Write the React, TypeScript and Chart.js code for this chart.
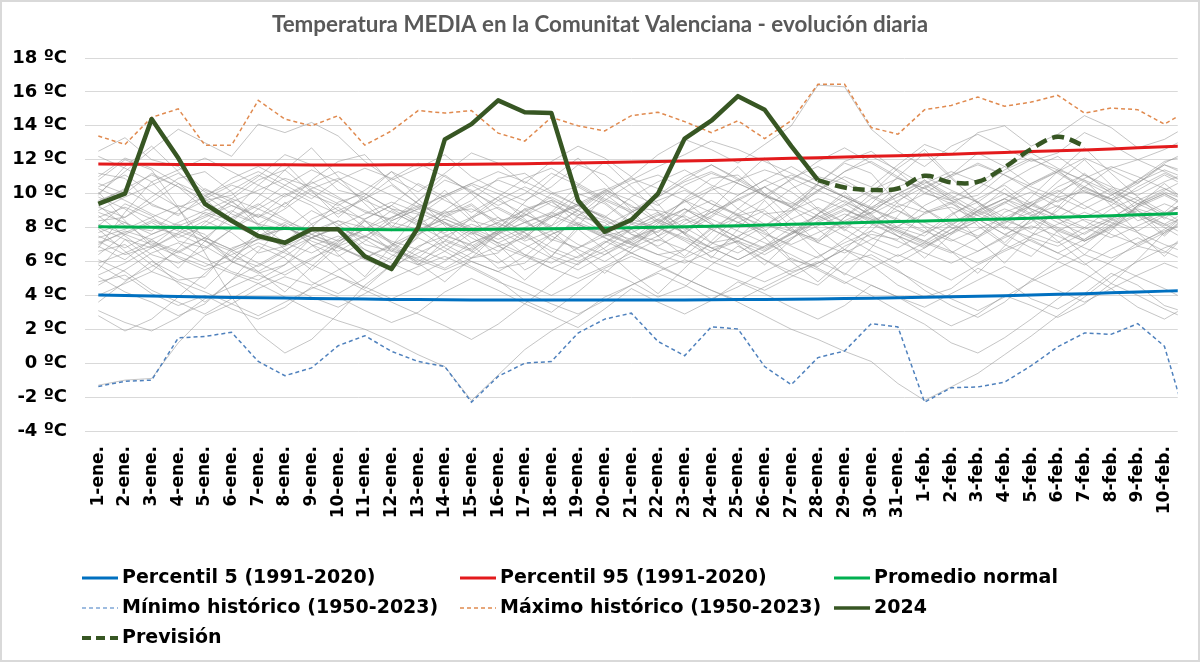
import React, { useEffect, useRef } from 'react';
import { Chart, registerables } from 'chart.js';
Chart.register(...registerables);

const TITULO = 'Temperatura MEDIA en la Comunitat Valenciana - evolución diaria';

const categorias = [
  '1-ene.', '2-ene.', '3-ene.', '4-ene.', '5-ene.', '6-ene.', '7-ene.', '8-ene.', '9-ene.', '10-ene.',
  '11-ene.', '12-ene.', '13-ene.', '14-ene.', '15-ene.', '16-ene.', '17-ene.', '18-ene.', '19-ene.', '20-ene.',
  '21-ene.', '22-ene.', '23-ene.', '24-ene.', '25-ene.', '26-ene.', '27-ene.', '28-ene.', '29-ene.', '30-ene.',
  '31-ene.', '1-feb.', '2-feb.', '3-feb.', '4-feb.', '5-feb.', '6-feb.', '7-feb.', '8-feb.', '9-feb.', '10-feb.',
];

const yTicks = [-4, -2, 0, 2, 4, 6, 8, 10, 12, 14, 16, 18];

// 42 values: 1-ene .. 10-feb plus 11-feb (only half visible at the right edge)
const percentil5 = [4.02, 3.99, 3.96, 3.93, 3.9, 3.88, 3.86, 3.84, 3.82, 3.8, 3.78, 3.76, 3.75, 3.74, 3.73, 3.72, 3.72, 3.72, 3.72, 3.72, 3.72, 3.72, 3.73, 3.74, 3.75, 3.76, 3.77, 3.79, 3.81, 3.83, 3.86, 3.89, 3.92, 3.95, 3.98, 4.02, 4.06, 4.1, 4.15, 4.2, 4.25, 4.3];
const percentil95 = [11.75, 11.74, 11.73, 11.72, 11.72, 11.71, 11.7, 11.7, 11.69, 11.69, 11.69, 11.7, 11.71, 11.72, 11.73, 11.75, 11.77, 11.79, 11.81, 11.84, 11.87, 11.9, 11.93, 11.96, 12.0, 12.04, 12.08, 12.12, 12.16, 12.2, 12.24, 12.28, 12.33, 12.38, 12.43, 12.48, 12.53, 12.58, 12.64, 12.7, 12.76, 12.82];
const promedioNormal = [8.04, 8.03, 8.02, 8.0, 7.99, 7.97, 7.96, 7.94, 7.92, 7.9, 7.88, 7.87, 7.87, 7.88, 7.89, 7.9, 7.91, 7.93, 7.95, 7.97, 7.99, 8.02, 8.05, 8.08, 8.11, 8.15, 8.19, 8.23, 8.27, 8.31, 8.35, 8.39, 8.43, 8.47, 8.51, 8.55, 8.6, 8.65, 8.7, 8.75, 8.8, 8.85];
const minimoHistorico = [-1.37, -1.07, -1.0, 1.49, 1.58, 1.82, 0.1, -0.74, -0.28, 1.03, 1.62, 0.7, 0.1, -0.2, -2.3, -0.78, 0.0, 0.1, 1.78, 2.6, 2.95, 1.28, 0.44, 2.14, 2.02, -0.2, -1.27, 0.33, 0.72, 2.33, 2.14, -2.3, -1.45, -1.4, -1.12, -0.15, 0.97, 1.78, 1.7, 2.33, 1.0, -4.3];
const maximoHistorico = [13.4, 12.9, 14.5, 15.0, 12.86, 12.86, 15.5, 14.4, 14.0, 14.6, 12.86, 13.7, 14.9, 14.75, 14.9, 13.57, 13.1, 14.5, 14.0, 13.7, 14.6, 14.8, 14.25, 13.6, 14.3, 13.25, 14.3, 16.45, 16.45, 13.9, 13.5, 14.95, 15.2, 15.7, 15.15, 15.4, 15.8, 14.75, 15.05, 14.95, 14.1, 15.0];
const temp2024 = [9.4, 10.0, 14.4, 12.1, 9.4, 8.4, 7.5, 7.1, 7.9, 7.9, 6.3, 5.55, 8.0, 13.2, 14.1, 15.5, 14.8, 14.75, 9.6, 7.75, 8.45, 10.0, 13.25, 14.3, 15.75, 14.95, 12.8, 10.8, null, null, null, null, null, null, null, null, null, null, null, null, null, null];
const prevision = [null, null, null, null, null, null, null, null, null, null, null, null, null, null, null, null, null, null, null, null, null, null, null, null, null, null, null, 10.8, 10.36, 10.22, 10.3, 11.05, 10.66, 10.7, 11.55, 12.63, 13.35, 12.82, null, null, null, null];

// Individual years 1950-2023 (a selection)
const historicos = [
  [5.1, 4.2, 3.6, 2.8, 3.5, 4.9, 5.8, 6.7, 7.4, 6.9, 6.1, 5.5, 6.8, 7.9, 8.6, 9.2, 8.4, 7.3, 6.8, 7.5, 8.9, 9.6, 10.2, 9.4, 8.7, 9.1, 10.3, 11.0, 10.6, 9.8, 9.0, 8.3, 7.6, 8.4, 9.5, 10.1, 9.2, 8.6, 9.3, 10.4, 11.2, 10.5],
  [10.8, 12.0, 11.4, 9.2, 6.5, 3.9, 1.8, 0.6, 1.4, 2.9, 4.6, 5.8, 6.9, 7.5, 8.2, 7.6, 6.4, 5.9, 6.8, 7.7, 8.5, 8.0, 7.3, 6.6, 7.2, 8.1, 9.0, 9.7, 9.1, 8.4, 7.8, 7.1, 6.5, 7.4, 8.3, 8.9, 9.6, 10.2, 9.5, 8.7, 8.1, 8.8],
  [9.5, 10.3, 11.1, 10.4, 9.7, 10.5, 10.0, 9.2, 10.8, 11.9, 12.3, 10.6, 9.4, 8.8, 9.6, 10.9, 11.2, 10.1, 9.3, 8.6, 9.8, 10.7, 11.4, 10.5, 9.9, 10.8, 11.6, 10.7, 9.8, 9.1, 10.4, 11.0, 10.2, 9.5, 10.6, 11.5, 12.2, 11.1, 10.4, 9.9, 10.7, 11.3],
  [7.4, 7.9, 8.6, 9.3, 8.8, 8.1, 7.5, 6.9, 7.6, 8.4, 8.0, 7.2, 6.7, 6.1, 6.8, 7.7, 8.3, 8.9, 8.2, 7.6, 7.0, 6.4, 5.9, 6.6, 7.5, 8.2, 7.8, 7.1, 6.5, 7.3, 8.1, 8.8, 9.4, 8.7, 8.0, 7.4, 6.9, 7.7, 8.5, 9.1, 8.6, 8.0],
  [3.1, 2.4, 1.9, 2.7, 3.8, 4.5, 5.2, 4.6, 3.9, 3.3, 4.1, 5.0, 5.7, 6.3, 5.6, 4.8, 4.2, 3.5, 2.9, 3.7, 4.6, 5.4, 6.1, 5.5, 4.9, 4.3, 5.1, 5.9, 6.7, 6.2, 5.4, 4.6, 3.8, 3.1, 3.9, 4.8, 5.6, 6.4, 5.8, 5.1, 4.4, 3.6],
  [9.0, 9.8, 10.5, 11.2, 10.1, 9.3, 8.6, 9.4, 10.3, 10.9, 10.0, 9.1, 8.3, 7.7, 8.5, 9.6, 10.4, 9.7, 8.8, 8.1, 8.9, 9.8, 10.7, 11.3, 10.6, 9.9, 9.2, 8.5, 9.3, 10.2, 10.9, 10.3, 9.6, 8.9, 9.7, 10.6, 11.4, 10.8, 10.1, 9.4, 10.2, 11.0],
  [8.2, 7.6, 7.0, 6.3, 5.7, 6.4, 7.1, 6.5, 5.8, 5.1, 4.3, 3.6, 2.9, 2.2, 1.4, 2.3, 3.5, 4.7, 5.9, 6.6, 7.3, 8.0, 7.4, 6.8, 6.1, 6.9, 7.6, 8.3, 9.0, 8.5, 7.8, 7.2, 6.6, 5.9, 6.7, 7.5, 8.2, 8.9, 8.3, 7.7, 7.0, 6.4],
  [10.3, 9.6, 8.8, 8.1, 8.7, 9.5, 10.2, 10.9, 10.4, 9.7, 9.0, 8.4, 9.1, 9.9, 10.6, 11.3, 10.7, 10.0, 9.3, 8.6, 8.0, 8.7, 9.5, 10.2, 10.8, 11.4, 10.9, 10.2, 9.5, 8.8, 9.6, 10.4, 11.1, 11.7, 11.1, 10.4, 9.8, 9.1, 9.9, 10.7, 11.4, 10.8],
  [5.9, 6.5, 7.2, 6.6, 5.9, 5.3, 4.7, 5.4, 6.2, 6.9, 7.5, 6.8, 6.1, 5.5, 6.2, 6.9, 6.3, 5.6, 5.0, 5.7, 6.5, 7.3, 6.7, 6.0, 5.4, 4.8, 5.5, 6.3, 7.1, 7.8, 7.2, 6.5, 5.9, 6.6, 7.4, 8.1, 7.5, 6.8, 6.2, 6.9, 7.7, 8.4],
  [7.1, 7.7, 8.4, 7.8, 7.2, 6.6, 7.3, 8.0, 7.4, 6.8, 6.2, 6.9, 7.6, 8.3, 7.7, 7.1, 7.8, 8.6, 9.3, 10.1, 10.8, 11.6, 12.3, 13.1, 12.6, 11.9, 11.2, 10.5, 9.8, 9.1, 8.4, 7.7, 8.3, 9.0, 9.7, 9.1, 8.5, 7.9, 8.6, 9.4, 10.1, 9.5],
  [8.6, 9.2, 8.5, 7.9, 8.6, 9.3, 8.7, 8.0, 7.4, 8.1, 8.8, 9.5, 8.9, 8.2, 7.6, 8.3, 9.0, 9.6, 9.0, 8.4, 7.7, 8.4, 9.1, 8.5, 7.8, 7.1, 6.4, 5.6, 4.8, 4.0, 3.1, 2.3, 1.2, 0.6, 1.5, 2.6, 3.8, 4.9, 6.0, 7.1, 7.8, 8.4],
  [12.2, 11.5, 10.7, 11.4, 12.1, 11.3, 10.5, 9.8, 10.6, 11.3, 10.6, 9.9, 9.2, 9.9, 10.6, 10.0, 9.3, 8.6, 9.4, 10.2, 10.9, 10.3, 9.6, 8.9, 9.6, 10.4, 11.1, 10.5, 9.8, 9.1, 9.8, 10.6, 11.3, 10.7, 10.0, 9.3, 10.1, 10.9, 11.6, 11.0, 10.3, 9.6],
  [4.0, 4.7, 5.4, 4.8, 4.2, 3.5, 2.8, 3.6, 4.4, 5.1, 4.5, 3.8, 4.5, 5.3, 6.0, 5.4, 4.7, 4.0, 4.8, 5.6, 6.3, 5.7, 5.0, 4.3, 3.7, 4.5, 5.3, 6.0, 5.3, 4.6, 3.9, 3.3, 4.1, 4.9, 5.7, 5.0, 4.3, 3.6, 4.4, 5.2, 5.9, 5.3],
  [8.9, 8.3, 7.6, 8.3, 9.0, 9.7, 9.1, 8.4, 7.8, 7.2, 7.9, 8.6, 9.3, 8.7, 8.0, 7.3, 8.0, 8.7, 8.1, 7.4, 6.8, 7.5, 8.2, 8.9, 8.3, 7.6, 7.0, 7.7, 8.4, 9.1, 8.5, 7.8, 7.2, 7.9, 8.6, 9.3, 8.7, 8.0, 7.4, 8.1, 8.8, 9.5],
  [6.8, 8.9, 10.7, 9.1, 7.3, 6.0, 7.8, 9.5, 8.2, 6.4, 5.1, 6.9, 8.8, 10.2, 8.6, 7.0, 5.5, 6.3, 8.1, 9.9, 11.0, 9.4, 7.6, 6.2, 7.9, 9.6, 8.0, 6.5, 5.2, 6.8, 8.7, 10.4, 9.0, 7.3, 5.9, 7.5, 9.2, 10.8, 9.3, 7.7, 6.3, 7.9],
  [10.1, 8.4, 6.9, 5.6, 7.2, 8.9, 10.5, 11.8, 10.2, 8.6, 9.9, 11.3, 9.7, 8.1, 6.6, 7.9, 9.5, 10.9, 12.1, 10.6, 9.0, 7.5, 8.8, 10.3, 11.6, 10.0, 8.5, 7.1, 8.6, 10.0, 11.5, 12.6, 11.0, 9.4, 7.9, 9.3, 10.7, 12.0, 10.5, 9.0, 7.6, 8.9],
  [5.5, 7.3, 6.1, 4.7, 3.6, 4.9, 6.6, 8.2, 7.0, 5.6, 4.4, 5.8, 7.5, 9.0, 7.7, 6.2, 4.9, 6.3, 7.9, 6.7, 5.3, 4.1, 5.6, 7.2, 8.7, 7.4, 6.0, 4.8, 6.2, 7.8, 9.3, 8.0, 6.6, 5.3, 6.9, 8.5, 7.2, 5.9, 4.7, 6.1, 7.7, 9.1],
  [9.9, 11.6, 12.8, 11.3, 9.7, 8.3, 9.8, 11.4, 12.7, 11.0, 9.4, 8.0, 9.6, 11.1, 10.0, 8.6, 7.3, 8.9, 10.5, 11.9, 10.4, 8.9, 7.6, 9.1, 10.7, 12.1, 10.6, 9.1, 7.8, 9.4, 11.0, 12.4, 10.9, 9.5, 8.2, 9.8, 11.3, 12.7, 11.2, 9.8, 8.5, 10.0],
  [2.8, 1.9, 2.6, 3.9, 5.3, 6.6, 5.4, 4.2, 5.7, 7.1, 8.4, 7.0, 5.8, 7.2, 8.6, 9.8, 8.5, 7.2, 8.7, 10.0, 8.8, 7.5, 6.3, 7.7, 9.1, 10.4, 9.2, 7.9, 6.7, 8.1, 9.5, 10.8, 9.6, 8.3, 7.1, 8.5, 9.9, 11.2, 10.0, 8.7, 7.5, 8.9],
  [7.9, 6.6, 5.4, 6.8, 8.3, 9.6, 8.1, 6.7, 5.5, 6.9, 8.4, 7.1, 5.9, 4.8, 6.2, 7.7, 9.1, 7.8, 6.5, 5.3, 6.7, 8.2, 9.6, 8.3, 7.0, 5.8, 7.3, 8.8, 10.1, 8.8, 7.5, 6.2, 7.6, 9.0, 10.3, 9.0, 7.7, 6.4, 7.8, 9.3, 10.6, 9.3],
  [8.4, 8.6, 9.8, 10.9, 11.3, 10.1, 8.2, 7.9, 8.0, 9.5, 10.0, 9.1, 8.8, 7.0, 6.2, 6.5, 7.8, 8.1, 9.9, 10.3, 9.2, 9.0, 8.6, 7.1, 7.4, 8.8, 9.0, 10.6, 11.8, 11.2, 9.4, 8.9, 9.2, 8.5, 7.6, 8.3, 9.8, 10.1, 9.7, 8.4, 8.9, 10.2],
  [11.2, 10.9, 9.3, 8.8, 9.6, 9.9, 11.0, 12.3, 11.7, 10.2, 9.8, 8.1, 7.7, 8.9, 9.1, 8.4, 8.7, 10.0, 10.4, 9.5, 8.3, 8.0, 9.7, 10.9, 11.1, 9.8, 9.4, 10.6, 11.9, 12.5, 11.3, 10.0, 9.6, 9.9, 11.2, 12.0, 11.4, 10.1, 9.5, 10.8, 11.7, 11.0],
  [6.6, 7.0, 5.8, 4.9, 5.1, 6.8, 7.3, 7.1, 8.5, 9.2, 8.0, 6.6, 6.2, 7.5, 7.0, 5.6, 5.9, 7.2, 8.6, 8.3, 7.1, 6.4, 6.7, 8.0, 8.8, 7.9, 6.1, 5.7, 6.9, 7.6, 7.3, 8.9, 9.5, 8.1, 7.0, 6.3, 7.8, 8.5, 8.1, 6.9, 6.5, 7.9],
  [12.5, 13.3, 12.0, 11.6, 10.2, 9.7, 10.8, 11.4, 10.1, 9.0, 8.5, 9.3, 10.6, 9.8, 8.4, 8.0, 9.1, 9.6, 8.2, 7.5, 7.9, 8.8, 7.6, 6.8, 7.2, 6.1, 5.4, 5.9, 6.7, 5.8, 4.6, 3.9, 4.4, 5.6, 4.9, 3.8, 3.2, 4.1, 5.3, 4.6, 3.4, 2.9],
  [7.2, 6.4, 6.9, 8.1, 7.6, 6.0, 5.3, 5.8, 7.4, 8.0, 6.7, 6.1, 7.6, 8.7, 9.4, 8.2, 7.7, 6.3, 5.8, 7.1, 7.9, 6.8, 6.2, 7.0, 8.3, 9.0, 7.8, 7.3, 8.6, 9.7, 10.3, 9.1, 8.0, 7.4, 8.9, 9.5, 8.6, 7.2, 7.9, 9.3, 10.0, 9.2],
  [10.0, 11.3, 12.6, 13.8, 13.0, 12.2, 14.1, 13.6, 14.2, 13.4, 11.9, 10.8, 11.5, 12.3, 11.0, 10.2, 9.6, 10.4, 11.7, 11.1, 10.0, 9.3, 10.5, 11.2, 10.6, 9.9, 10.8, 11.9, 12.7, 11.8, 10.9, 10.3, 11.1, 12.4, 11.6, 10.5, 11.3, 12.1, 11.4, 10.6, 11.8, 12.6],
  [3.6, 4.8, 6.0, 5.2, 4.4, 5.9, 6.9, 6.2, 4.8, 4.1, 5.0, 6.3, 7.4, 6.6, 5.7, 4.9, 3.7, 3.0, 4.2, 5.5, 4.8, 3.9, 4.5, 5.8, 6.9, 6.1, 5.2, 4.6, 5.9, 6.4, 5.5, 4.3, 3.4, 2.7, 3.6, 4.9, 6.0, 5.3, 4.4, 3.3, 2.6, 3.5],
  [8.0, 7.3, 6.8, 7.7, 8.9, 8.4, 7.5, 7.9, 9.0, 8.2, 7.0, 6.6, 7.9, 8.5, 7.8, 6.9, 7.4, 8.6, 9.3, 8.7, 7.6, 7.2, 8.4, 9.1, 8.3, 7.8, 8.9, 10.2, 11.0, 10.4, 11.7, 12.9, 12.3, 13.6, 14.0, 12.8, 13.5, 14.6, 13.9, 12.7, 13.2, 14.1],
  [9.3, 8.1, 7.8, 9.0, 10.3, 9.5, 8.6, 9.9, 10.7, 9.8, 8.9, 8.5, 9.6, 10.8, 10.2, 9.1, 8.3, 8.8, 10.0, 9.4, 8.2, 7.7, 8.9, 9.6, 8.7, 8.1, 9.2, 10.5, 9.8, 8.6, 8.0, 9.3, 10.1, 9.5, 8.4, 7.9, 9.0, 10.4, 9.7, 8.8, 8.2, 9.1],
  [4.8, 5.2, 4.1, 3.4, 4.0, 3.2, 2.6, 3.3, 4.5, 3.9, 3.1, 2.4, 3.0, 4.2, 5.0, 4.3, 3.5, 2.8, 2.1, 3.2, 4.4, 3.6, 2.9, 3.7, 4.8, 4.1, 3.3, 2.6, 3.4, 4.6, 3.9, 3.0, 2.2, 2.9, 4.0, 3.4, 2.7, 3.5, 4.7, 4.0, 3.2, 2.5],
  [9.6, 10.2, 9.4, 8.7, 9.9, 10.6, 11.3, 10.5, 9.7, 10.8, 11.5, 10.9, 10.1, 11.2, 12.4, 11.8, 10.6, 11.9, 12.8, 12.1, 11.0, 12.3, 13.2, 12.6, 11.8, 12.9, 14.0, 16.4, 16.3, 13.8, 12.5, 11.6, 12.8, 13.5, 12.7, 11.9, 12.4, 13.6, 12.9, 12.0, 12.6, 13.4],
  [6.1, 5.4, 4.3, 3.6, 2.9, 3.8, 4.7, 3.9, 3.1, 2.5, 2.0, 1.3, 0.5, -0.2, -2.2, -0.7, 0.8, 1.9, 2.8, 3.9, 4.6, 5.3, 4.6, 3.8, 4.5, 5.4, 6.2, 5.5, 4.7, 5.6, 6.4, 5.7, 4.9, 5.8, 6.6, 7.3, 6.5, 5.8, 6.7, 7.4, 6.6, 5.9],
  [7.5, 6.8, 7.6, 8.2, 7.4, 6.7, 7.5, 8.3, 7.6, 6.9, 6.2, 7.0, 7.8, 8.5, 7.9, 7.1, 6.4, 5.6, 6.3, 7.2, 6.5, 5.8, 5.0, 4.3, 3.6, 2.8, 2.0, 1.4, 0.7, 0.1, -1.2, -2.2, -1.4, -0.6, 0.5, 1.6, 2.8, 3.9, 5.1, 6.0, 6.8, 7.4],
  [-1.3, -1.0, -0.9, 1.2, 2.8, 3.5, 4.4, 5.1, 4.6, 5.5, 6.3, 5.7, 6.5, 7.2, 6.6, 5.9, 6.8, 7.6, 8.3, 7.7, 7.0, 7.8, 8.5, 7.9, 7.2, 6.6, 7.4, 8.1, 8.8, 8.2, 7.5, 6.9, 7.7, 8.4, 9.1, 8.5, 7.8, 7.2, 8.0, 8.7, 9.4, 8.8],
  [8.1, 9.4, 8.7, 7.2, 6.8, 7.9, 9.1, 10.0, 9.3, 8.0, 7.4, 8.6, 9.2, 8.3, 7.1, 7.7, 8.9, 9.8, 9.0, 7.8, 7.3, 8.5, 9.6, 10.4, 9.1, 8.2, 7.6, 8.8, 9.9, 9.2, 8.0, 7.5, 8.7, 9.7, 10.5, 9.4, 8.6, 9.5, 10.3, 9.6, 8.8, 9.7],
  [6.9, 6.1, 7.3, 8.0, 7.2, 6.3, 5.7, 6.6, 7.8, 8.4, 7.5, 6.7, 6.0, 6.9, 7.9, 8.6, 7.7, 6.8, 6.2, 7.1, 8.2, 8.9, 8.0, 7.1, 6.5, 7.4, 8.5, 9.2, 8.3, 7.4, 6.8, 7.7, 8.8, 9.5, 8.6, 7.7, 7.1, 8.0, 9.1, 9.8, 8.9, 8.0],
  [10.6, 10.0, 11.2, 10.4, 9.1, 8.5, 9.3, 10.5, 11.4, 10.7, 9.6, 8.9, 8.2, 9.0, 10.1, 10.8, 10.2, 9.3, 8.7, 9.6, 10.6, 11.1, 10.3, 9.4, 8.8, 9.7, 10.9, 11.6, 10.8, 9.9, 9.2, 10.0, 11.0, 11.8, 11.1, 10.2, 9.5, 10.4, 11.5, 12.0, 11.3, 10.5],
  [5.2, 5.9, 6.8, 7.6, 6.9, 6.0, 5.4, 6.3, 7.4, 8.0, 7.3, 6.4, 5.8, 6.6, 7.7, 8.3, 7.5, 6.6, 6.0, 6.8, 7.9, 8.5, 7.7, 6.8, 6.1, 6.9, 8.0, 8.7, 7.9, 7.0, 6.3, 7.1, 8.2, 8.9, 8.1, 7.2, 6.5, 7.3, 8.4, 9.0, 8.2, 7.4],
  [9.8, 9.1, 8.0, 7.6, 8.4, 7.7, 6.5, 6.9, 8.2, 9.0, 9.7, 10.5, 9.4, 8.6, 9.3, 8.1, 7.2, 7.8, 9.1, 10.2, 9.6, 8.4, 7.9, 8.7, 9.9, 10.8, 10.1, 9.0, 8.3, 8.9, 10.0, 10.7, 9.8, 8.7, 9.4, 10.6, 11.3, 10.4, 9.6, 10.2, 11.1, 10.3],
  [7.0, 7.8, 7.3, 6.2, 5.5, 6.1, 7.4, 8.1, 7.2, 6.6, 7.5, 8.3, 7.9, 6.8, 6.0, 5.4, 6.3, 7.6, 8.2, 7.4, 6.5, 5.8, 6.7, 7.9, 8.6, 7.7, 6.9, 6.2, 7.3, 8.4, 9.0, 8.1, 7.3, 6.6, 7.5, 8.7, 9.3, 8.4, 7.6, 7.0, 7.9, 9.0],
  [11.0, 12.1, 11.5, 10.6, 9.4, 10.2, 11.1, 10.3, 9.5, 8.8, 9.7, 10.9, 11.8, 11.0, 10.1, 9.3, 10.0, 11.2, 10.5, 9.6, 8.9, 9.8, 10.8, 11.7, 10.9, 10.0, 9.2, 10.1, 11.3, 12.2, 11.4, 10.5, 9.7, 10.6, 11.6, 12.4, 11.5, 10.7, 9.9, 10.8, 11.9, 12.3],
  [4.6, 5.5, 6.5, 7.1, 6.2, 5.4, 4.9, 5.8, 6.9, 7.5, 6.7, 5.9, 5.2, 6.0, 7.1, 7.8, 7.0, 6.2, 5.5, 6.4, 7.4, 8.0, 7.2, 6.3, 5.7, 6.6, 7.7, 8.3, 7.5, 6.6, 5.9, 6.8, 7.9, 8.5, 7.6, 6.8, 6.1, 7.0, 8.1, 8.8, 8.0, 7.1],
  [8.7, 7.5, 6.4, 5.9, 6.7, 7.9, 8.8, 8.1, 7.0, 6.3, 7.2, 8.4, 9.1, 8.3, 7.4, 6.6, 7.5, 8.7, 9.4, 8.5, 7.6, 6.9, 7.8, 8.9, 9.7, 8.8, 7.9, 7.2, 8.1, 9.2, 10.0, 9.1, 8.2, 7.5, 8.4, 9.5, 10.2, 9.3, 8.5, 7.8, 8.7, 9.8],
  [6.4, 7.6, 8.3, 7.4, 8.1, 9.0, 8.2, 7.1, 6.5, 7.3, 8.5, 9.3, 8.4, 7.6, 6.9, 7.8, 8.8, 8.0, 7.0, 6.4, 7.2, 8.3, 9.1, 8.2, 7.4, 6.7, 7.6, 8.6, 9.4, 8.5, 7.7, 7.0, 7.9, 9.0, 9.7, 8.8, 8.0, 7.3, 8.2, 9.3, 10.0, 9.2],
  [9.2, 8.6, 9.5, 10.6, 9.9, 8.8, 8.2, 9.1, 10.2, 9.4, 8.4, 7.8, 8.7, 9.8, 10.5, 9.6, 8.8, 8.1, 9.0, 10.1, 9.3, 8.3, 7.7, 8.6, 9.7, 10.4, 9.5, 8.7, 8.0, 8.9, 10.0, 10.8, 9.9, 9.0, 8.4, 9.3, 10.4, 11.1, 10.2, 9.4, 8.7, 9.6],
  [7.7, 8.3, 7.1, 6.5, 7.4, 8.6, 9.4, 8.5, 7.6, 7.0, 7.9, 9.0, 8.1, 7.3, 6.7, 7.6, 8.7, 9.5, 8.6, 7.7, 7.1, 8.0, 9.1, 8.2, 7.4, 6.8, 7.7, 8.8, 9.6, 8.7, 7.9, 7.2, 8.1, 9.2, 10.0, 9.1, 8.3, 7.6, 8.5, 9.6, 10.3, 9.4],
  [5.8, 4.9, 5.7, 6.6, 7.4, 6.7, 5.9, 5.2, 6.1, 7.2, 7.9, 7.1, 6.3, 5.6, 6.5, 7.6, 8.3, 7.5, 6.7, 6.0, 6.9, 8.0, 8.7, 7.9, 7.1, 6.4, 7.3, 8.4, 9.1, 8.3, 7.5, 6.8, 7.7, 8.8, 9.5, 8.7, 7.9, 7.2, 8.1, 9.2, 9.9, 9.1],
  [10.4, 11.1, 10.1, 9.2, 9.8, 10.9, 11.6, 10.8, 9.9, 9.3, 10.2, 11.3, 10.5, 9.6, 8.9, 9.8, 10.9, 11.5, 10.6, 9.7, 9.0, 9.9, 11.0, 11.7, 10.8, 9.9, 9.3, 10.2, 11.3, 11.9, 11.0, 10.1, 9.4, 10.3, 11.4, 12.1, 11.2, 10.3, 9.7, 10.6, 11.7, 11.2],
];

const C_P5 = '#0070C0';
const C_P95 = '#E31A1C';
const C_NORMAL = '#00B050';
const C_MIN = '#4F81BD';
const C_MAX = '#E08A4F';
const C_2024 = '#375623';
const C_GRIS = 'rgba(150,150,150,0.55)';

const FONT = '"DejaVu Sans", Verdana, sans-serif';

type LegendItem = { label: string; color: string; width: number; dash: number[]; col: number; row: number };
const legendItems: LegendItem[] = [
  { label: 'Percentil 5 (1991-2020)', color: C_P5, width: 3, dash: [], col: 0, row: 0 },
  { label: 'Percentil 95 (1991-2020)', color: C_P95, width: 3, dash: [], col: 1, row: 0 },
  { label: 'Promedio normal', color: C_NORMAL, width: 3, dash: [], col: 2, row: 0 },
  { label: 'Mínimo histórico (1950-2023)', color: '#7FA7D6', width: 1.5, dash: [4, 3], col: 0, row: 1 },
  { label: 'Máximo histórico (1950-2023)', color: C_MAX, width: 1.5, dash: [4, 3], col: 1, row: 1 },
  { label: '2024', color: C_2024, width: 3.5, dash: [], col: 2, row: 1 },
  { label: 'Previsión', color: C_2024, width: 4, dash: [9, 5], col: 0, row: 2 },
];
const legendColX = [82, 460, 834];
const legendRowY = [578, 608, 638];

export default function App() {
  const ref = useRef<HTMLCanvasElement>(null);

  useEffect(() => {
    if (!ref.current) return;
    const pts = (arr: (number | null)[]) => arr.map((y, i) => ({ x: i, y }));
    const base = { pointRadius: 0, pointHoverRadius: 0, tension: 0, fill: false, spanGaps: false };

    const datasets: any[] = [
      { ...base, label: 'Previsión', data: pts(prevision), borderColor: C_2024, borderWidth: 4.5, borderDash: [12, 6], tension: 0.35 },
      { ...base, label: '2024', data: pts(temp2024), borderColor: C_2024, borderWidth: 4.5, borderJoinStyle: 'round' },
      { ...base, label: 'Máximo histórico (1950-2023)', data: pts(maximoHistorico), borderColor: C_MAX, borderWidth: 1.5, borderDash: [4, 3] },
      { ...base, label: 'Mínimo histórico (1950-2023)', data: pts(minimoHistorico), borderColor: C_MIN, borderWidth: 1.5, borderDash: [4, 3] },
      { ...base, label: 'Promedio normal', data: pts(promedioNormal), borderColor: C_NORMAL, borderWidth: 3 },
      { ...base, label: 'Percentil 95 (1991-2020)', data: pts(percentil95), borderColor: C_P95, borderWidth: 3 },
      { ...base, label: 'Percentil 5 (1991-2020)', data: pts(percentil5), borderColor: C_P5, borderWidth: 3 },
      ...historicos.map((h) => ({ ...base, label: '', data: pts(h), borderColor: C_GRIS, borderWidth: 1 })),
    ];

    const decor = {
      id: 'decor',
      afterDraw(chart: any) {
        const c = chart.ctx as CanvasRenderingContext2D;
        c.save();
        c.fillStyle = '#595959';
        c.font = 'bold 22.4px Lato, "Liberation Sans", sans-serif';
        c.textAlign = 'center';
        c.textBaseline = 'middle';
        c.fillText(TITULO, 600, 25);

        c.font = `bold 19px ${FONT}`;
        c.textAlign = 'left';
        c.fillStyle = '#000';
        for (const it of legendItems) {
          const x = legendColX[it.col];
          const y = legendRowY[it.row];
          c.beginPath();
          c.strokeStyle = it.color;
          c.lineWidth = it.width;
          c.setLineDash(it.dash);
          c.moveTo(x, y);
          c.lineTo(x + 36, y);
          c.stroke();
          c.setLineDash([]);
          c.fillText(it.label, x + 40, y);
        }
        c.strokeStyle = '#d9d9d9';
        c.lineWidth = 2;
        c.strokeRect(1, 1, 1198, 660);
        c.restore();
      },
    };

    const chart = new Chart(ref.current, {
      type: 'line',
      data: { datasets },
      options: {
        responsive: false,
        animation: false,
        devicePixelRatio: 1,
        events: [],
        layout: { padding: { top: 58, right: 15, left: 0, bottom: 0 } },
        plugins: { legend: { display: false }, title: { display: false }, tooltip: { enabled: false } },
        scales: {
          x: {
            type: 'linear',
            min: -0.5,
            max: 40.5,
            afterBuildTicks: (s: any) => {
              s.ticks = categorias.map((_, i) => ({ value: i }));
            },
            afterFit: (s: any) => {
              s.height = 662 - 431;
            },
            grid: { display: false, drawTicks: false },
            border: { display: false },
            ticks: {
              autoSkip: false,
              minRotation: 90,
              maxRotation: 90,
              padding: 15,
              color: '#000',
              font: { family: FONT, weight: 'bold', size: 17 },
              callback: (v: any) => categorias[Math.round(Number(v))] ?? '',
            },
          },
          y: {
            min: yTicks[0],
            max: yTicks[yTicks.length - 1],
            afterBuildTicks: (s: any) => {
              s.ticks = yTicks.map((v) => ({ value: v }));
            },
            afterFit: (s: any) => {
              s.width = 85;
            },
            grid: { color: '#d9d9d9', lineWidth: 1, drawTicks: false },
            border: { display: false },
            ticks: {
              padding: 18,
              color: '#000',
              font: { family: FONT, weight: 'bold', size: 18 },
              callback: (v: any) => `${v} ºC`,
            },
          },
        },
      } as any,
      plugins: [decor],
    });
    return () => chart.destroy();
  }, []);

  return (
    <div style={{ position: 'absolute', left: 0, top: 0, width: 1200, height: 662, background: '#fff' }}>
      <canvas ref={ref} width={1200} height={662} style={{ display: 'block', width: 1200, height: 662 }} />
    </div>
  );
}
